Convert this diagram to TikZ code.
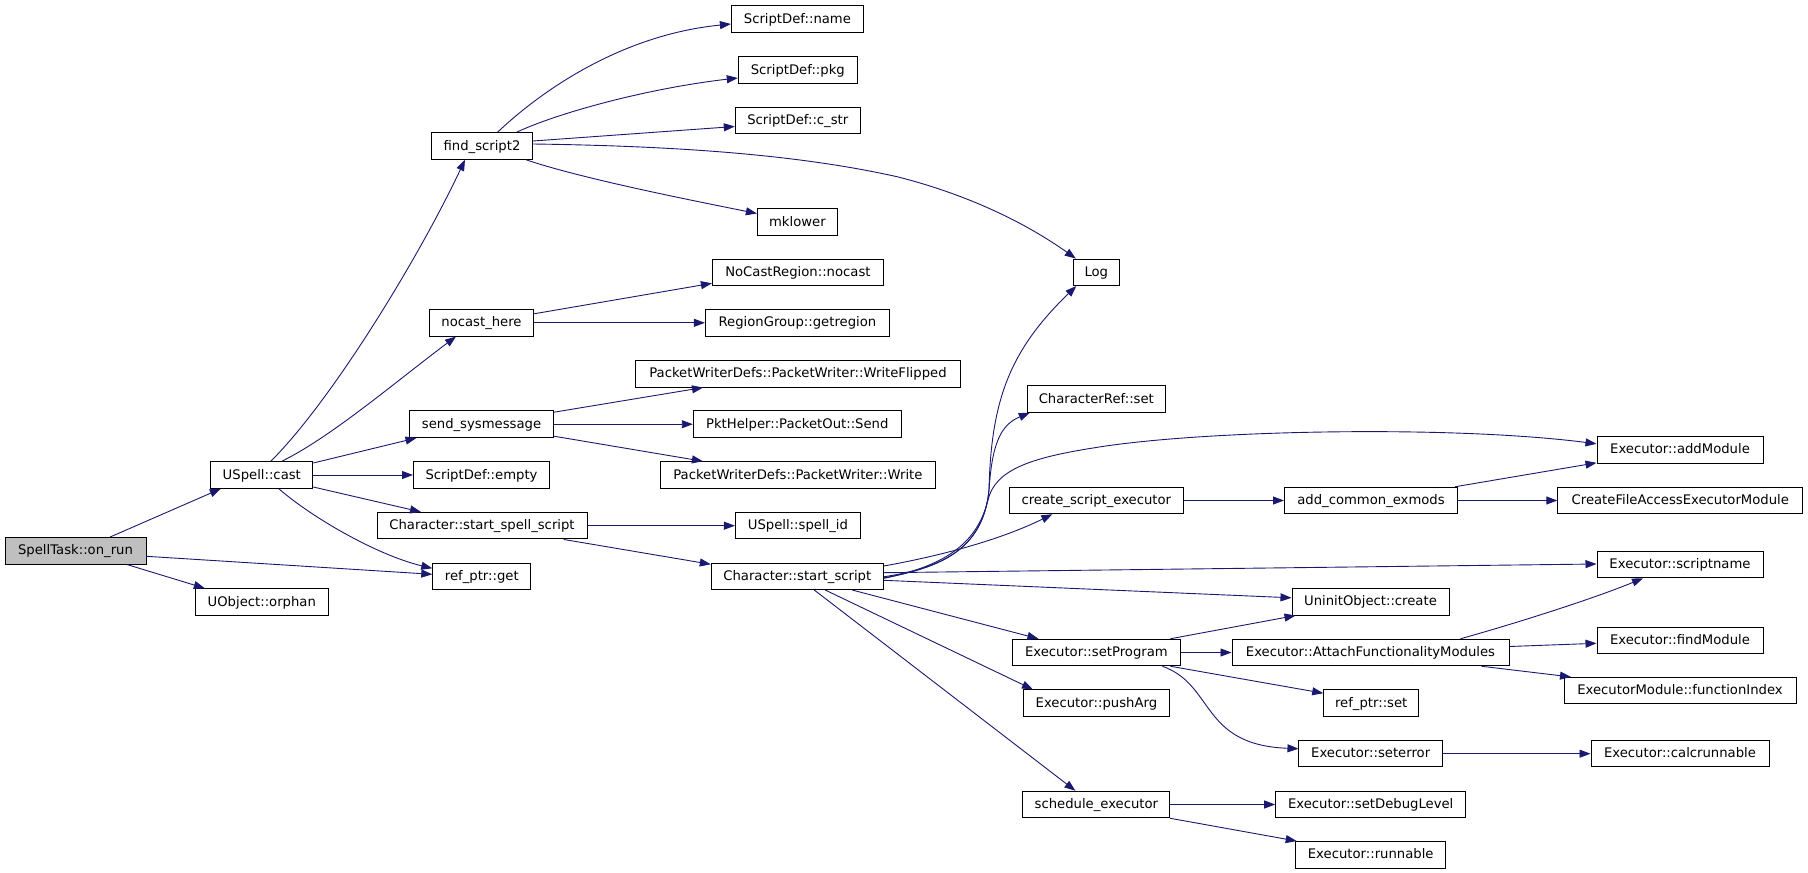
\documentclass[tikz,border=0pt]{standalone}
\usepackage{fontspec}
\setmainfont{DejaVu Sans}
\usetikzlibrary{arrows.meta,calc}
\definecolor{edgeblue}{HTML}{191970}
\definecolor{rootgray}{HTML}{BFBFBF}
\tikzset{
  fn/.style={draw=black, line width=1pt, rectangle, inner sep=0pt, minimum height=26.5pt,
    text height=10pt, text depth=2pt, font=\fontsize{13.2pt}{15pt}\selectfont, align=center},
  rootfn/.style={fn, fill=rootgray},
  edge/.style={draw=edgeblue, line width=0.9pt, -{Triangle[length=11pt,width=8pt]}},
}
\begin{document}
\begin{tikzpicture}[x=1pt,y=-1pt]
\useasboundingbox[fill=white] (0,0) rectangle (1808,873);
% column 0
\node[rootfn, minimum width=141pt] (spelltask) at (75.5,550.8) {SpellTask::on\_run};
% column 1
\node[fn, minimum width=102pt] (cast) at (261.8,475) {USpell::cast};
\node[fn, minimum width=133pt] (orphan) at (261.8,602) {UObject::orphan};
% column 2
\node[fn, minimum width=101pt] (find) at (482,146) {find\_script2};
\node[fn, minimum width=104pt] (nch) at (481.5,322.8) {nocast\_here};
\node[fn, minimum width=144pt] (sysmsg) at (481.5,424.2) {send\_sysmessage};
\node[fn, minimum width=136pt] (empty) at (481.5,475) {ScriptDef::empty};
\node[fn, minimum width=210pt] (sss) at (482,525.7) {Character::start\_spell\_script};
\node[fn, minimum width=98pt] (refget) at (481.8,576.3) {ref\_ptr::get};
% column 3
\node[fn, minimum width=132pt] (sdname) at (797.4,19) {ScriptDef::name};
\node[fn, minimum width=119pt] (sdpkg) at (797.8,70) {ScriptDef::pkg};
\node[fn, minimum width=125pt] (sdcstr) at (797.8,120.5) {ScriptDef::c\_str};
\node[fn, minimum width=80pt] (mklower) at (797.4,222) {mklower};
\node[fn, minimum width=171pt] (nocast) at (797.9,272.3) {NoCastRegion::nocast};
\node[fn, minimum width=184pt] (getregion) at (797.4,322.8) {RegionGroup::getregion};
\node[fn, minimum width=325pt] (wflipped) at (798,373.8) {PacketWriterDefs::PacketWriter::WriteFlipped};
\node[fn, minimum width=208pt] (send) at (797.3,424.2) {PktHelper::PacketOut::Send};
\node[fn, minimum width=275pt] (write) at (797.9,475) {PacketWriterDefs::PacketWriter::Write};
\node[fn, minimum width=125pt] (spellid) at (797.9,525.7) {USpell::spell\_id};
\node[fn, minimum width=172pt] (ss) at (797.3,576.3) {Character::start\_script};
% column 4
\node[fn, minimum width=46pt] (log) at (1096.3,272.3) {Log};
\node[fn, minimum width=138pt] (charref) at (1096.3,399) {CharacterRef::set};
\node[fn, minimum width=174pt] (cse) at (1096.3,500.5) {create\_script\_executor};
\node[fn, minimum width=168pt] (setprog) at (1096.4,652.5) {Executor::setProgram};
\node[fn, minimum width=146pt] (pusharg) at (1096.4,703.2) {Executor::pushArg};
\node[fn, minimum width=147pt] (sched) at (1096.4,804.5) {schedule\_executor};
% column 5
\node[fn, minimum width=173pt] (addcommon) at (1371,500.5) {add\_common\_exmods};
\node[fn, minimum width=157pt] (uninit) at (1370.5,601.8) {UninitObject::create};
\node[fn, minimum width=277pt] (attach) at (1370.5,652.5) {Executor::AttachFunctionalityModules};
\node[fn, minimum width=95pt] (refset) at (1371.2,703.2) {ref\_ptr::set};
\node[fn, minimum width=143.5pt] (seterror) at (1370.7,753.7) {Executor::seterror};
\node[fn, minimum width=190pt] (setdebug) at (1370.7,804.5) {Executor::setDebugLevel};
\node[fn, minimum width=150pt] (runnable) at (1370.7,854.8) {Executor::runnable};
% column 6
\node[fn, minimum width=166pt] (addmodule) at (1680,449.8) {Executor::addModule};
\node[fn, minimum width=245pt] (createfile) at (1680.3,500.5) {CreateFileAccessExecutorModule};
\node[fn, minimum width=166pt] (scriptname) at (1680,564.5) {Executor::scriptname};
\node[fn, minimum width=166pt] (findmodule) at (1680,640.3) {Executor::findModule};
\node[fn, minimum width=232pt] (funcindex) at (1680,690.7) {ExecutorModule::functionIndex};
\node[fn, minimum width=178pt] (calcrun) at (1680,753.7) {Executor::calcrunnable};

% edges from SpellTask::on_run
\draw[edge] ($(spelltask.north)+(34.5,0)$) -- ($(cast.south)+(-41,0)$);
\draw[edge] ($(spelltask.east)+(0,5.5)$) -- ($(refget.west)+(0,-2)$);
\draw[edge] ($(spelltask.south)+(51.5,0)$) -- ($(orphan.north)+(-57,0)$);
% edges from USpell::cast
\draw[edge] ($(cast.north)+(9,0)$) .. controls (331,401.5) and (418,259.5) .. ($(find.south)+(-17,0)$);
\draw[edge] ($(cast.north)+(20,0)$) .. controls (332,436.5) and (396.5,381) .. ($(nch.south)+(-25.5,0)$);
\draw[edge] ($(cast.east)+(0,-12)$) -- ($(sysmsg.south)+(-65,0)$);
\draw[edge] (cast.east) -- (empty.west);
\draw[edge] ($(cast.east)+(0,12)$) -- ($(sss.north)+(-61,0)$);
\draw[edge] ($(cast.south)+(17,0)$) .. controls (315,520) and (380,556) .. ($(refget.west)+(0,-8)$);
% edges from find_script2
\draw[edge] ($(find.north)+(15.5,0)$) .. controls (540,92) and (620,35) .. ($(sdname.west)+(0,5)$);
\draw[edge] ($(find.north)+(34.5,0)$) .. controls (560,112) and (650,88) .. ($(sdpkg.west)+(0,8)$);
\draw[edge] ($(find.east)+(0,-5)$) -- ($(sdcstr.west)+(0,6)$);
\draw[edge] ($(find.east)+(0,-2)$) .. controls (680,146) and (800,155) .. (897,176.7)
  .. controls (950,190) and (1013,214) .. ($(log.north west)+(3,0)$);
\draw[edge] ($(find.south)+(44,0)$) .. controls (580,178) and (680,198) .. ($(mklower.west)+(0,-8.5)$);
% edges from nocast_here
\draw[edge] ($(nch.east)+(0,-9)$) -- ($(nocast.west)+(0,11)$);
\draw[edge] (nch.east) -- (getregion.west);
% edges from send_sysmessage
\draw[edge] ($(sysmsg.east)+(0,-12)$) -- ($(wflipped.south)+(-95,0)$);
\draw[edge] (sysmsg.east) -- (send.west);
\draw[edge] ($(sysmsg.east)+(0,12)$) -- ($(write.north)+(-95,0)$);
% edges from Character::start_spell_script
\draw[edge] (sss.east) -- (spellid.west);
\draw[edge] ($(sss.south)+(81.7,0)$) -- ($(ss.west)+(0,-12)$);
% edges from Character::start_script
\draw[edge] ($(ss.east)+(0,0.5)$) .. controls (940,568) and (983,550) .. (989,490)
  .. controls (991,400) and (1010,350) .. ($(log.south)+(-20,0)$);
\draw[edge] ($(ss.east)+(0,1.5)$) .. controls (940,568) and (983,550) .. (989,490)
  .. controls (992,445) and (1000,425) .. ($(charref.south west)+(3,0)$);
\draw[edge] ($(ss.east)+(0,2)$) .. controls (950,565) and (978,540) .. (988,500)
  .. controls (995,470) and (1030,458) .. (1093,448)
  .. controls (1200,430) and (1450,425) .. ($(addmodule.west)+(0,-6)$);
\draw[edge] ($(ss.east)+(0,-10.3)$) .. controls (940,556) and (1000,540) .. ($(cse.south)+(-44,0)$);
\draw[edge] ($(ss.east)+(0,-3.6)$) -- ($(scriptname.west)+(0,-0.5)$);
\draw[edge] ($(ss.east)+(0,4)$) -- ($(uninit.west)+(0,-4)$);
\draw[edge] ($(ss.south)+(55,0)$) -- ($(setprog.north)+(-58,0)$);
\draw[edge] ($(ss.south)+(28,0)$) -- ($(pusharg.north)+(-63.5,0)$);
\draw[edge] ($(ss.south)+(17,0)$) -- ($(sched.north)+(-21,0)$);
% edges from create_script_executor / add_common_exmods
\draw[edge] (cse.east) -- (addcommon.west);
\draw[edge] ($(addcommon.north)+(84,0)$) -- ($(addmodule.west)+(0,13)$);
\draw[edge] (addcommon.east) -- (createfile.west);
% edges from Executor::setProgram
\draw[edge] ($(setprog.north)+(74,0)$) -- ($(uninit.south west)+(4,0)$);
\draw[edge] (setprog.east) -- (attach.west);
\draw[edge] ($(setprog.south)+(74,0)$) -- ($(refset.west)+(0,-10)$);
\draw[edge] ($(setprog.south)+(66,0)$) .. controls (1215,685) and (1200,745) .. ($(seterror.west)+(0,-5)$);
% edges from Executor::AttachFunctionalityModules
\draw[edge] ($(attach.north)+(90,0)$) .. controls (1510,625) and (1590,600) .. ($(scriptname.south)+(-37,0)$);
\draw[edge] ($(attach.east)+(0,-6)$) -- ($(findmodule.west)+(0,3)$);
\draw[edge] ($(attach.south)+(111,0)$) -- ($(funcindex.north)+(-109,0)$);
% remaining
\draw[edge] (seterror.east) -- (calcrun.west);
\draw[edge] (sched.east) -- (setdebug.west);
\draw[edge] ($(sched.south)+(73.6,0)$) -- ($(runnable.north)+(-74,0)$);
\end{tikzpicture}
\end{document}
